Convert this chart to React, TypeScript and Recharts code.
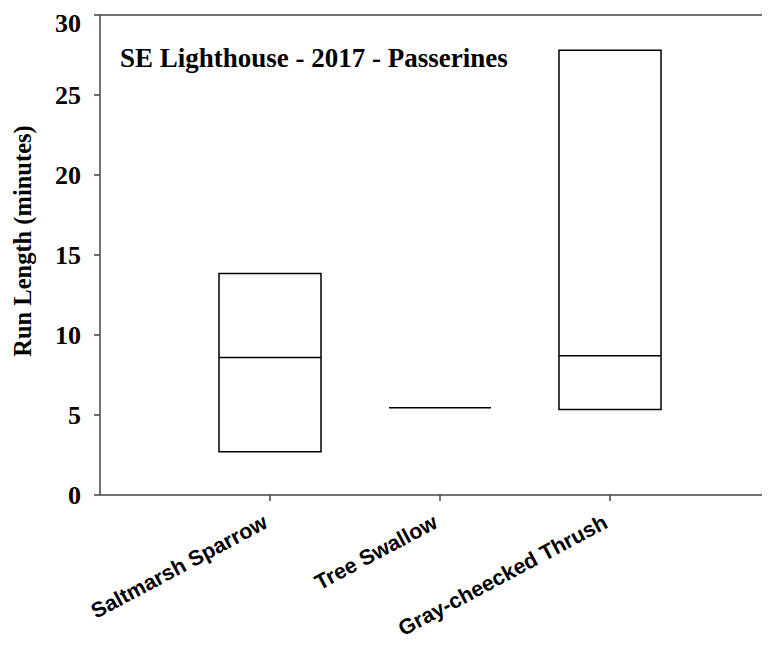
import React from 'react';
import { ComposedChart, Bar, Scatter, XAxis, YAxis, ReferenceLine } from 'recharts';

const species = ['Saltmarsh Sparrow', 'Tree Swallow', 'Gray-cheecked Thrush'];
const positions = [1, 2, 3];
const boxLow = [2.7, null, 5.35];
const boxHigh = [13.85, null, 27.8];
const medians = [8.6, 5.45, 8.7];
const yTicks = [0, 5, 10, 15, 20, 25, 30];

const data = species.map((name, i) => ({
  name,
  x: positions[i],
  low: boxLow[i],
  high: boxHigh[i],
  median: medians[i],
}));

const serif = '"Liberation Serif", "Times New Roman", serif';
const sans = '"Liberation Sans", Arial, sans-serif';

const MedianLine = (props: any) => {
  const { cx, cy } = props;
  if (cx == null || cy == null) return null;
  return <line x1={cx - 51} x2={cx + 51} y1={cy} y2={cy} stroke="#000" strokeWidth={1.5} />;
};

const SpeciesTick = (props: any) => {
  const { x, y, payload } = props;
  const idx = positions.indexOf(payload.value);
  return (
    <g transform={`translate(${x - 1},${y + 24})`}>
      <text
        x={0}
        y={0}
        textAnchor="end"
        transform="rotate(-28)"
        fontFamily={sans}
        fontWeight="bold"
        fontSize={21.5}
        fill="#000"
      >
        {species[idx]}
      </text>
    </g>
  );
};

const YLabel = (props: any) => {
  const { viewBox } = props;
  if (!viewBox) return null;
  const cx = viewBox.x + 14;
  const cy = viewBox.y + viewBox.height / 2 - 14;
  return (
    <text
      x={cx}
      y={cy}
      transform={`rotate(-90 ${cx} ${cy})`}
      textAnchor="middle"
      dominantBaseline="central"
      fontFamily={serif}
      fontWeight="bold"
      fontSize={24.5}
      fill="#000"
    >
      Run Length (minutes)
    </text>
  );
};

export default function App() {
  return (
    <div style={{ position: 'relative', width: 762, height: 638, overflow: 'hidden' }}>
      <ComposedChart
        width={772}
        height={638}
        data={data}
        margin={{ top: 7, right: 0, left: 0, bottom: 0 }}
      >
        <XAxis
          dataKey="x"
          type="number"
          domain={[0, 4]}
          ticks={positions}
          tick={<SpeciesTick />}
          tickSize={6}
          height={151}
          stroke="#444"
          strokeWidth={1.5}
          interval={0}
        />
        <YAxis
          type="number"
          domain={[0, 30]}
          ticks={yTicks}
          width={92}
          tickSize={6}
          tickMargin={13}
          stroke="#444"
          strokeWidth={1.5}
          tick={{ fill: '#000', fontFamily: serif, fontWeight: 'bold', fontSize: 26 }}
          label={<YLabel />}
        />
        <ReferenceLine y={30} stroke="#444" strokeWidth={1.5} />
        <Bar
          dataKey={(d: any) => (d.low == null ? null : [d.low, d.high])}
          barSize={102}
          fill="#fff"
          stroke="#000"
          strokeWidth={1.5}
          isAnimationActive={false}
        />
        <Scatter dataKey="median" shape={<MedianLine />} isAnimationActive={false} />
      </ComposedChart>
      <div
        style={{
          position: 'absolute',
          left: 112,
          top: 37,
          fontFamily: serif,
          fontWeight: 'bold',
          fontSize: 27,
          lineHeight: '27px',
          color: '#000',
          whiteSpace: 'nowrap',
        }}
      >
        SE Lighthouse - 2017 - Passerines
      </div>
    </div>
  );
}
